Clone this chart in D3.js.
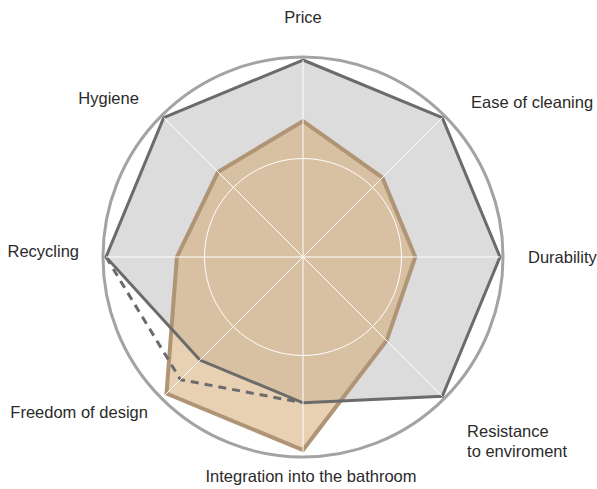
<!DOCTYPE html>
<html>
<head>
<meta charset="utf-8">
<script src="https://cdn.jsdelivr.net/npm/d3@7"></script>
<style>
    body { margin: 0; background: #fff; }
    text { font-family: "Liberation Sans", Arial, sans-serif; font-size: 16.5px; fill: #2a2a2a; }
</style>
</head>
<body>
<script>
// axes, clockwise from top
const axes = ['Price', 'Ease of cleaning', 'Durability', 'Resistance\nto enviroment',
    'Integration into the bathroom', 'Freedom of design', 'Recycling', 'Hygiene'];

// grey reference profile (0-10)
const reference = [10, 10, 10, 10, 7.4, 7.4, 10, 10];
// orange product profile
const product = [6.9, 5.7, 5.7, 6.0, 9.8, 9.8, 6.4, 6.1];
// dashed alternative (Recycling -> Freedom -> Integration)
const alternative = [{axis: 6, value: 10}, {axis: 5, value: 8.8}, {axis: 4, value: 7.4}];

const gridLevels = [5];

const width = 597, height = 489;
const cx = 303, cy = 257, radius = 197;

const svg = d3.select('body').append('svg')
    .attr('width', width)
    .attr('height', height);

const g = svg.append('g').attr('transform', `translate(${cx},${cy})`);

const r = d3.scaleLinear().domain([0, 10]).range([0, radius]);
const angle = d3.scaleLinear().domain([0, axes.length]).range([0, 2 * Math.PI]);

const radial = d3.lineRadial()
    .angle((d, i) => angle(i))
    .radius(d => r(d))
    .curve(d3.curveLinearClosed);

// grey area
g.append('path')
    .attr('d', radial(reference))
    .attr('fill', '#dcdcdc');

// product area
g.append('path')
    .attr('d', radial(product))
    .attr('fill', 'rgba(214,170,115,0.55)')
    .attr('stroke', '#b09476')
    .attr('stroke-width', 4)
    .attr('stroke-linejoin', 'miter');

// grey outline
g.append('path')
    .attr('d', radial(reference))
    .attr('fill', 'none')
    .attr('stroke', '#6b6b6b')
    .attr('stroke-width', 3);

// dashed alternative
const dashLine = d3.lineRadial()
    .angle(d => angle(d.axis))
    .radius(d => r(d.value));

g.append('path')
    .attr('d', dashLine(alternative))
    .attr('fill', 'none')
    .attr('stroke', '#6b6b6b')
    .attr('stroke-width', 3)
    .attr('stroke-dasharray', '8,6');

// white grid
g.selectAll('.spoke')
    .data(axes)
    .join('line')
    .attr('class', 'spoke')
    .attr('x1', 0).attr('y1', 0)
    .attr('x2', (d, i) => r(10) * Math.sin(angle(i)))
    .attr('y2', (d, i) => -r(10) * Math.cos(angle(i)))
    .attr('stroke', '#fff')
    .attr('stroke-width', 1);

g.selectAll('.ring')
    .data(gridLevels)
    .join('circle')
    .attr('class', 'ring')
    .attr('r', d => r(d))
    .attr('fill', 'none')
    .attr('stroke', '#fff')
    .attr('stroke-width', 1);

// outer circle
g.append('circle')
    .attr('r', radius + 3)
    .attr('fill', 'none')
    .attr('stroke', '#a3a3a3')
    .attr('stroke-width', 3);

// labels: anchor + nudge from the point at labelR
const labelR = 225;
const nudges = [[0, -9], [9, 10], [0, 6], [5, 21], [8, 0], [4, 2], [1, 0], [-5, 6]];

const labels = g.selectAll('.label')
    .data(axes)
    .join('text')
    .attr('class', 'label')
    .attr('text-anchor', (d, i) => {
        const s = Math.sin(angle(i));
        return s > 0.1 ? 'start' : s < -0.1 ? 'end' : 'middle';
    })
    .attr('transform', (d, i) => {
        const x = labelR * Math.sin(angle(i)) + nudges[i][0];
        const y = -labelR * Math.cos(angle(i)) + nudges[i][1];
        return `translate(${x},${y})`;
    });

labels.selectAll('tspan')
    .data(d => d.split('\n'))
    .join('tspan')
    .attr('x', 0)
    .attr('dy', (d, j) => j === 0 ? 0 : 20)
    .text(d => d);
</script>
</body>
</html>
